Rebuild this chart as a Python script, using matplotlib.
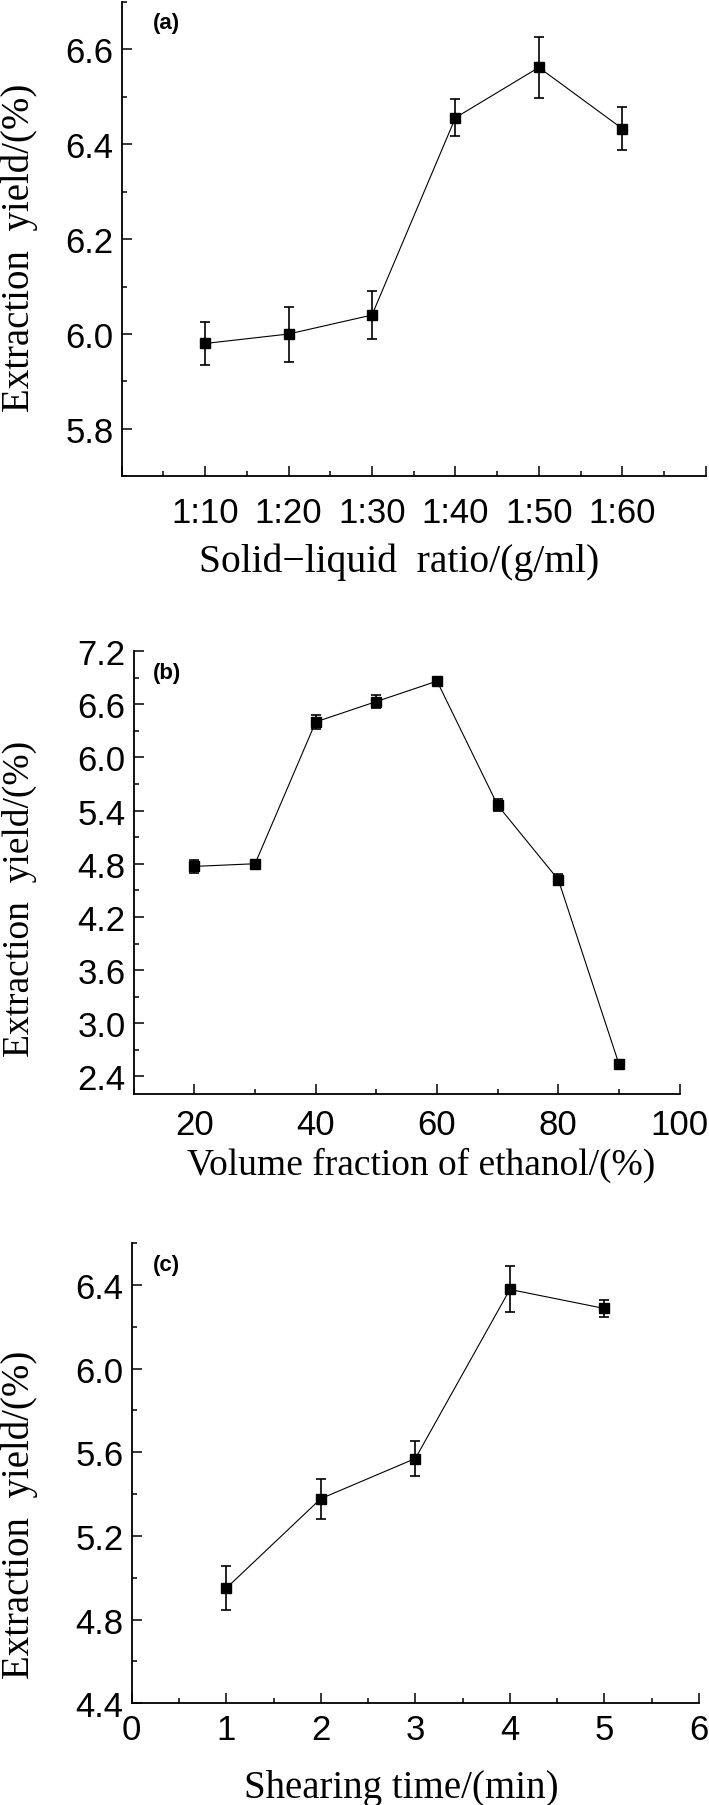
import numpy as np
import matplotlib
matplotlib.use("Agg")
import matplotlib.pyplot as plt
from matplotlib.ticker import MultipleLocator, FormatStrFormatter

# (a) solid-liquid ratio
ratio_labels = ["1:10", "1:20", "1:30", "1:40", "1:50", "1:60"]
ratio_yield = [5.98, 6.00, 6.04, 6.456, 6.562, 6.433]
ratio_err = [0.046, 0.058, 0.050, 0.039, 0.065, 0.045]

# (b) ethanol volume fraction
ethanol_pct = [20, 30, 40, 50, 60, 70, 80, 90]
ethanol_yield = [4.77, 4.80, 6.40, 6.63, 6.86, 5.46, 4.62, 2.54]
ethanol_err = [0.07, 0.04, 0.08, 0.07, 0.03, 0.07, 0.06, 0.02]

# (c) shearing time
shear_min = [1, 2, 3, 4, 5]
shear_yield = [4.95, 5.378, 5.57, 6.378, 6.287]
shear_err = [0.105, 0.095, 0.085, 0.11, 0.04]

W, H = 709, 1806
fig = plt.figure(figsize=(W / 100, H / 100), dpi=100)

SANS = "Liberation Sans"
SERIF = "Liberation Serif"


def px_axes(left, right, top, bottom):
    return fig.add_axes([left / W, 1 - bottom / H, (right - left) / W, (bottom - top) / H])


def style(ax, xpad):
    for s in ["top", "right"]:
        ax.spines[s].set_visible(False)
    for s in ["left", "bottom"]:
        ax.spines[s].set_linewidth(1.3)
    ax.tick_params(which="both", direction="in", top=False, right=False, width=1.1)
    ax.tick_params(which="major", length=7)
    ax.tick_params(which="minor", length=3.5)
    ax.tick_params(axis="y", pad=6)
    ax.tick_params(axis="x", pad=xpad)
    for lab in ax.get_xticklabels() + ax.get_yticklabels():
        lab.set_fontfamily(SANS)
        lab.set_fontsize(25)


def draw(ax, x, y, err):
    ax.errorbar(x, y, yerr=err, fmt="s-", color="black", markersize=7.2,
                linewidth=0.8, elinewidth=1.2, capsize=3.5, capthick=1.2)


def tag(ax, s, xp, yp, left, top, w, h):
    ax.text((xp - left) / w, 1 - (yp - top) / h, s, transform=ax.transAxes,
            fontfamily=SANS, fontweight="bold", fontsize=16, va="center", ha="left")


# panel (a)
ax1 = px_axes(121.7, 705.7, 3, 477.3)
xa = np.arange(1, len(ratio_labels) + 1)
draw(ax1, xa, ratio_yield, ratio_err)
ax1.set_xlim(0, 7)
ax1.set_ylim(5.7, 6.7)
ax1.set_xticks(np.arange(0, 8), [""] + ratio_labels + [""])
ax1.xaxis.set_minor_locator(MultipleLocator(0.5))
ax1.set_yticks(np.arange(5.8, 6.61, 0.2))
ax1.yaxis.set_minor_locator(MultipleLocator(0.1))
ax1.yaxis.set_major_formatter(FormatStrFormatter("%.1f"))
style(ax1, 14)
tag(ax1, "(a)", 153, 24, 121.7, 3, 584, 474.3)

# panel (b)
ax2 = px_axes(133.8, 679.6, 652, 1095.2)
draw(ax2, ethanol_pct, ethanol_yield, ethanol_err)
ax2.set_xlim(10, 100)
ax2.set_ylim(2.2, 7.2)
ax2.set_xticks([20, 40, 60, 80, 100])
ax2.xaxis.set_minor_locator(MultipleLocator(10))
ax2.set_yticks(np.arange(2.4, 7.21, 0.6))
ax2.yaxis.set_minor_locator(MultipleLocator(0.3))
ax2.yaxis.set_major_formatter(FormatStrFormatter("%.1f"))
style(ax2, 10)
tag(ax2, "(b)", 153, 673, 133.8, 652, 545.8, 443.2)

# panel (c)
ax3 = px_axes(131.7, 699, 1244, 1704.3)
draw(ax3, shear_min, shear_yield, shear_err)
ax3.set_xlim(0, 6)
ax3.set_ylim(4.4, 6.6)
ax3.set_xticks(np.arange(0, 7))
ax3.xaxis.set_minor_locator(MultipleLocator(0.5))
ax3.set_yticks(np.arange(4.4, 6.41, 0.4))
ax3.yaxis.set_minor_locator(MultipleLocator(0.2))
ax3.yaxis.set_major_formatter(FormatStrFormatter("%.1f"))
style(ax3, 7)
tag(ax3, "(c)", 153, 1266, 131.7, 1244, 567.3, 460.3)


# axis titles (serif), placed in pixel positions
def label(xp, yp, s, size, rot=0):
    fig.text(xp / W, 1 - yp / H, s, fontfamily=SERIF, fontsize=size,
             rotation=rot, ha="center", va="center")


label(19, 248, "Extraction  yield/(%)", 28, 90)
label(19, 899, "Extraction  yield/(%)", 27, 90)
label(19, 1515, "Extraction  yield/(%)", 28, 90)
label(399, 562, "Solid\u2212liquid  ratio/(g/ml)", 28.5)
label(421, 1165, "Volume fraction of ethanol/(%)", 27)
label(401, 1789, "Shearing time/(min)", 28)

fig.savefig("out.png", dpi=100)
